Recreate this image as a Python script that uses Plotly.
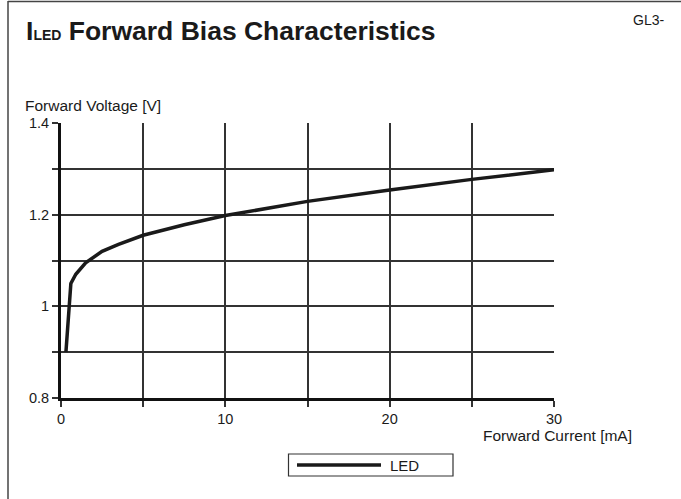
import plotly.graph_objects as go

# ---- data ----
current_ma = [0.3, 0.6, 0.9, 1.5, 2.5, 3.5, 5, 7.5, 10, 15, 20, 25, 30]
voltage_v = [0.90, 1.05, 1.07, 1.095, 1.12, 1.135, 1.155, 1.178, 1.198, 1.229, 1.254, 1.277, 1.298]
series_name = "LED"
x_tickvals = [0, 5, 10, 15, 20, 25, 30]
x_ticktext = ["0", "", "10", "", "20", "", "30"]
y_tickvals = [0.8, 0.9, 1.0, 1.1, 1.2, 1.3, 1.4]
y_ticktext = ["0.8", "", "1", "", "1.2", "", "1.4"]

W, H = 681, 499
L, R, T, B = 61, 127, 123, 101
PW, PH = W - L - R, H - T - B


def px(x):
    return (x - L) / PW


def py(y):
    return (H - B - y) / PH


FONT = "Liberation Sans, Arial, Helvetica, sans-serif"
TXT = "#1a1a1a"

fig = go.Figure()
fig.add_trace(go.Scatter(
    x=current_ma, y=voltage_v, mode="lines", name=series_name,
    line=dict(color="#1a1a1a", width=3.5), showlegend=False,
))

fig.update_layout(
    width=W, height=H,
    margin=dict(l=L, r=R, t=T, b=B),
    paper_bgcolor="white", plot_bgcolor="white",
    font=dict(family=FONT, size=14, color=TXT),
    xaxis=dict(range=[0, 30], tickvals=x_tickvals, ticktext=x_ticktext,
               showgrid=True, gridcolor="#333", gridwidth=1.5,
               showline=True, linecolor="#111", linewidth=3,
               ticks="outside", ticklen=6, tickwidth=1.5, tickcolor="#333",
               zeroline=False, automargin=False, tickfont=dict(size=14.5, color=TXT)),
    yaxis=dict(range=[0.8, 1.4], tickvals=y_tickvals, ticktext=y_ticktext,
               showgrid=True, gridcolor="#333", gridwidth=1.5,
               showline=True, linecolor="#111", linewidth=3,
               ticks="outside", ticklen=6, tickwidth=1.5, tickcolor="#333",
               zeroline=False, automargin=False, tickfont=dict(size=14.5, color=TXT)),
)

anns = [
    dict(text="I<span style='font-size:14px'>LED</span> Forward Bias Characteristics",
         x=px(24), y=py(31), xanchor="left", yanchor="middle",
         font=dict(size=26.5, color=TXT, family=FONT, weight="bold")),
    dict(text="GL3-", x=px(666), y=py(20), xanchor="right", yanchor="middle",
         font=dict(size=14, color=TXT)),
    dict(text="Forward Voltage [V]", x=px(23), y=py(105), xanchor="left", yanchor="middle",
         font=dict(size=15.5, color=TXT)),
    dict(text="Forward Current [mA]", x=px(634), y=py(435), xanchor="right", yanchor="middle",
         font=dict(size=15.5, color=TXT)),
    dict(text=series_name, x=px(388), y=py(465), xanchor="left", yanchor="middle",
         font=dict(size=15, color=TXT)),
]
for a in anns:
    a.update(xref="paper", yref="paper", showarrow=False)
fig.update_layout(annotations=anns)

shapes = [
    # outer frame (top and left)
    dict(type="line", x0=px(8), x1=px(681), y0=py(1.5), y1=py(1.5), line=dict(color="#444", width=1.5)),
    dict(type="line", x0=px(8), x1=px(8), y0=py(1), y1=py(499), line=dict(color="#444", width=1.5)),
    # legend box
    dict(type="rect", x0=px(288.5), x1=px(453), y0=py(454), y1=py(476), line=dict(color="#333", width=1.2),
         fillcolor="white"),
    dict(type="line", x0=px(297), x1=px(381), y0=py(465), y1=py(465), line=dict(color="#1a1a1a", width=3.5)),
]
for s in shapes:
    s.update(xref="paper", yref="paper")
fig.update_layout(shapes=shapes)

fig.write_html("out.html", config={"displayModeBar": False},
               post_script="document.body.style.margin='0';document.body.style.overflow='hidden';")
